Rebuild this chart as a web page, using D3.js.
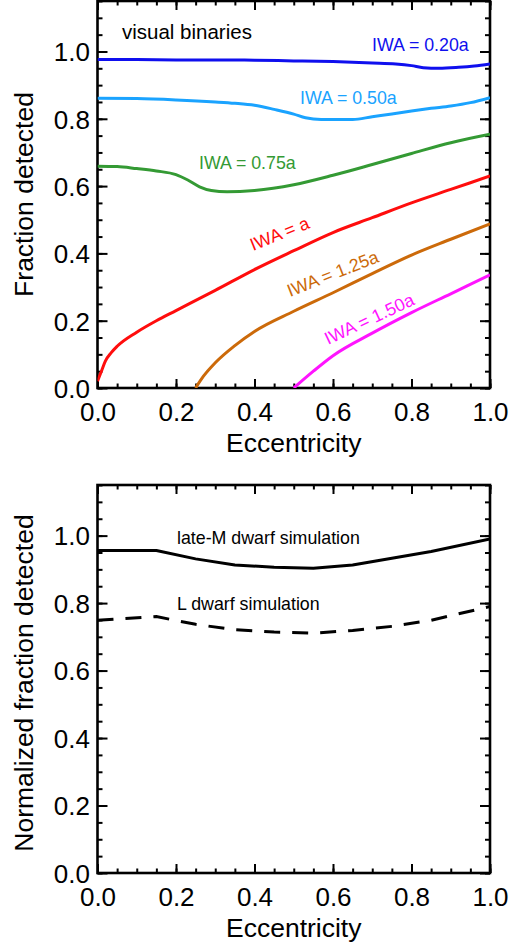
<!DOCTYPE html>
<html>
<head>
<meta charset="utf-8">
<script src="https://cdn.jsdelivr.net/npm/d3@7"></script>
<style>
  html, body { margin: 0; padding: 0; background: #fff; }
  svg { display: block; }
  text { font-family: "Liberation Sans", Arial, Helvetica, sans-serif; }
</style>
</head>
<body>
<svg id="chart" width="510" height="944"></svg>
<script>
// ---------- data ----------
const xTicks = [0.0, 0.2, 0.4, 0.6, 0.8, 1.0];
const yTicks = [0.0, 0.2, 0.4, 0.6, 0.8, 1.0];
const minorTicks = d3.range(0, 1.0001, 0.05);
const yMinorTicks = d3.range(0, 1.1501, 0.05);

const iwa020E = [0, 0.1, 0.2, 0.3, 0.4, 0.5, 0.6, 0.7, 0.76, 0.8, 0.83, 0.87, 0.92, 0.96, 1.0];
const iwa020F = [0.976, 0.976, 0.975, 0.975, 0.974, 0.972, 0.970, 0.966, 0.963, 0.958, 0.952, 0.950, 0.953, 0.957, 0.963];

const iwa050E = [0, 0.1, 0.2, 0.3, 0.35, 0.4, 0.45, 0.5, 0.53, 0.57, 0.65, 0.7, 0.75, 0.8, 0.85, 0.9, 0.95, 1.0];
const iwa050F = [0.861, 0.860, 0.856, 0.850, 0.846, 0.840, 0.828, 0.814, 0.803, 0.798, 0.798, 0.806, 0.814, 0.823, 0.831, 0.838, 0.848, 0.863];

const iwa075E = [0, 0.05, 0.1, 0.15, 0.2, 0.23, 0.26, 0.29, 0.33, 0.4, 0.5, 0.6, 0.7, 0.8, 0.9, 1.0];
const iwa075F = [0.659, 0.658, 0.652, 0.645, 0.634, 0.618, 0.598, 0.587, 0.583, 0.587, 0.604, 0.632, 0.664, 0.697, 0.729, 0.754];

const iwa100E = [0, 0.01, 0.02, 0.035, 0.05, 0.1, 0.15, 0.2, 0.3, 0.4, 0.5, 0.6, 0.7, 0.8, 0.9, 1.0];
const iwa100F = [0.02, 0.05, 0.08, 0.105, 0.124, 0.166, 0.2, 0.23, 0.29, 0.352, 0.408, 0.462, 0.506, 0.55, 0.59, 0.63];

const iwa125E = [0.25, 0.27, 0.3, 0.35, 0.4, 0.5, 0.6, 0.7, 0.8, 0.9, 1.0];
const iwa125F = [0.0, 0.035, 0.075, 0.126, 0.168, 0.228, 0.283, 0.34, 0.395, 0.442, 0.488];

const iwa150E = [0.5, 0.55, 0.6, 0.7, 0.8, 0.9, 1.0];
const iwa150F = [0.0, 0.05, 0.096, 0.163, 0.224, 0.28, 0.336];

const simE = [0, 0.15, 0.25, 0.35, 0.45, 0.55, 0.65, 0.75, 0.85, 1.0];
const lateMF = [0.956, 0.956, 0.931, 0.913, 0.906, 0.903, 0.913, 0.933, 0.953, 0.99];
const lDwarfF = [0.749, 0.760, 0.737, 0.721, 0.714, 0.711, 0.719, 0.731, 0.749, 0.790];

const topSeries = [
  {label: "IWA = 0.20a", e: iwa020E, f: iwa020F, color: "#0f0fee"},
  {label: "IWA = 0.50a", e: iwa050E, f: iwa050F, color: "#1aa3ff"},
  {label: "IWA = 0.75a", e: iwa075E, f: iwa075F, color: "#349a34"},
  {label: "IWA = a",     e: iwa100E, f: iwa100F, color: "#ff0d0d"},
  {label: "IWA = 1.25a", e: iwa125E, f: iwa125F, color: "#cc6a0a"},
  {label: "IWA = 1.50a", e: iwa150E, f: iwa150F, color: "#ff14ff"}
];

// ---------- layout ----------
const svg = d3.select("#chart");
const L = 97.5, R = 490;
const panels = [
  {top: 1.0, bottom: 388, ytitle: "Fraction detected", clip: "c1"},
  {top: 485, bottom: 873, ytitle: "Normalized fraction detected", clip: "c2"}
];

const x = d3.scaleLinear().domain([0, 1]).range([L, R]);
const fmt = d3.format(".1f");

function drawFrame(p) {
  const y = d3.scaleLinear().domain([0, 1.15]).range([p.bottom, p.top]);
  p.y = y;
  const g = svg.append("g");

  svg.append("clipPath").attr("id", p.clip)
    .append("rect").attr("x", L).attr("y", p.top).attr("width", R - L).attr("height", p.bottom - p.top);

  const style = sel => {
    sel.select(".domain").remove();
    sel.selectAll(".tick line").attr("stroke", "#000").attr("stroke-width", 2);
  };

  // minor ticks
  g.append("g").attr("transform", `translate(0,${p.bottom})`)
    .call(d3.axisBottom(x).tickValues(minorTicks).tickSize(-4.5).tickFormat("")).call(style);
  g.append("g").attr("transform", `translate(0,${p.top})`)
    .call(d3.axisTop(x).tickValues(minorTicks).tickSize(-4.5).tickFormat("")).call(style);
  g.append("g").attr("transform", `translate(${L},0)`)
    .call(d3.axisLeft(y).tickValues(yMinorTicks).tickSize(-5).tickFormat("")).call(style);
  g.append("g").attr("transform", `translate(${R},0)`)
    .call(d3.axisRight(y).tickValues(yMinorTicks).tickSize(-5).tickFormat("")).call(style);

  // major ticks
  const xb = g.append("g").attr("transform", `translate(0,${p.bottom})`)
    .call(d3.axisBottom(x).tickValues(xTicks).tickSize(-9).tickPadding(15).tickFormat(fmt)).call(style);
  xb.selectAll("text").attr("font-size", 26).attr("fill", "#000")
    .attr("font-family", "Liberation Sans, Arial, sans-serif");
  g.append("g").attr("transform", `translate(0,${p.top})`)
    .call(d3.axisTop(x).tickValues(xTicks).tickSize(-9).tickFormat("")).call(style);
  const yl = g.append("g").attr("transform", `translate(${L},0)`)
    .call(d3.axisLeft(y).tickValues(yTicks).tickSize(-10).tickPadding(7.5).tickFormat(fmt)).call(style);
  yl.selectAll("text").attr("font-size", 26).attr("fill", "#000").attr("dy", "0.36em")
    .attr("font-family", "Liberation Sans, Arial, sans-serif");
  g.append("g").attr("transform", `translate(${R},0)`)
    .call(d3.axisRight(y).tickValues(yTicks).tickSize(-10).tickFormat("")).call(style);

  // frame
  g.append("rect").attr("x", L).attr("y", p.top).attr("width", R - L).attr("height", p.bottom - p.top)
    .attr("fill", "none").attr("stroke", "#000").attr("stroke-width", 2.6);

  // titles
  svg.append("text").attr("x", (L + R) / 2).attr("y", p.bottom + 63.5)
    .attr("text-anchor", "middle").attr("font-size", 26.5).text("Eccentricity");
  svg.append("text")
    .attr("transform", `translate(32.5,${(p.top + p.bottom) / 2 + (p.clip === "c2" ? 4 : 0)}) rotate(-90)`)
    .attr("text-anchor", "middle").attr("font-size", 26.5).text(p.ytitle);
}

panels.forEach(drawFrame);

// ---------- top panel lines ----------
const p1 = panels[0];
const gl1 = svg.append("g").attr("clip-path", "url(#c1)");
topSeries.forEach(s => {
  const pts = s.e.map((e, i) => [e, s.f[i]]);
  const line = d3.line().x(d => x(d[0])).y(d => p1.y(d[1])).curve(d3.curveMonotoneX);
  gl1.append("path").attr("d", line(pts)).attr("fill", "none")
    .attr("stroke", s.color).attr("stroke-width", 3).attr("stroke-linejoin", "round");
});

// top panel annotations
svg.append("text").attr("x", 122).attr("y", 39).attr("font-size", 20.5).text("visual binaries");
const labelPos = [
  {x: 372, y: 50.5, rot: 0},
  {x: 300, y: 104, rot: 0},
  {x: 199, y: 168.5, rot: 0},
  {x: 253, y: 251, rot: -22},
  {x: 290, y: 297, rot: -21.5},
  {x: 328, y: 345, rot: -25}
];
topSeries.forEach((s, i) => {
  const lp = labelPos[i];
  svg.append("text").attr("transform", `translate(${lp.x},${lp.y}) rotate(${lp.rot})`)
    .attr("font-size", 17.8).attr("fill", s.color).text(s.label);
});

// ---------- bottom panel lines ----------
const p2 = panels[1];
const gl2 = svg.append("g").attr("clip-path", "url(#c2)");
const line2 = d3.line().x(d => x(d[0])).y(d => p2.y(d[1]));
gl2.append("path").attr("d", line2(simE.map((e, i) => [e, lateMF[i]])))
  .attr("fill", "none").attr("stroke", "#000").attr("stroke-width", 3).attr("stroke-linejoin", "round");
gl2.append("path").attr("d", line2(simE.map((e, i) => [e, lDwarfF[i]])))
  .attr("fill", "none").attr("stroke", "#000").attr("stroke-width", 3)
  .attr("stroke-dasharray", "16,12");

svg.append("text").attr("x", 177).attr("y", 543.5).attr("font-size", 17.8).text("late-M dwarf simulation");
svg.append("text").attr("x", 177).attr("y", 609.5).attr("font-size", 17.8).text("L dwarf simulation");
</script>
</body>
</html>
